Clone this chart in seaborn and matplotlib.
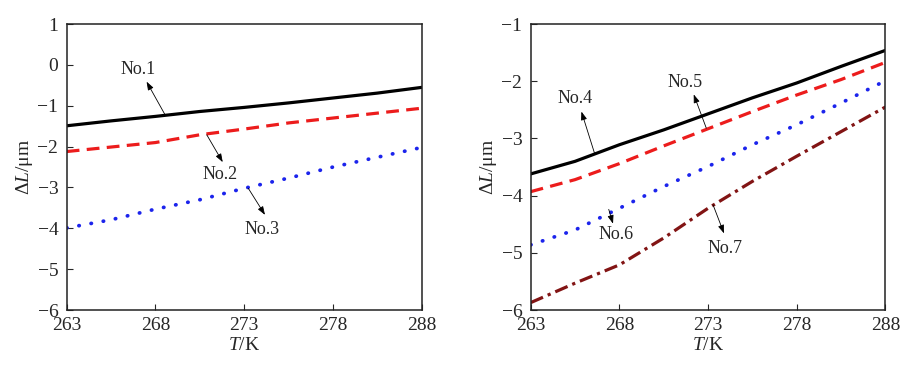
import numpy as np
import pandas as pd
import matplotlib
matplotlib.use("Agg")
import matplotlib.pyplot as plt
import seaborn as sns

# x positions (axis shows 5 equally spaced ticks labelled 263,268,273,278,288)
T = [263, 265.5, 268, 270.5, 273, 275.5, 278, 280.5, 283]
xtick_pos = [263, 268, 273, 278, 283]
xtick_labels = ["263", "268", "273", "278", "288"]

no1 = [-1.49, -1.37, -1.26, -1.14, -1.04, -0.93, -0.81, -0.69, -0.55]
no2 = [-2.12, -2.01, -1.90, -1.71, -1.57, -1.42, -1.30, -1.18, -1.06]
no3 = [-3.99, -3.79, -3.53, -3.30, -3.02, -2.77, -2.50, -2.26, -2.02]

no4 = [-3.62, -3.40, -3.11, -2.85, -2.57, -2.29, -2.03, -1.74, -1.46]
no5 = [-3.93, -3.72, -3.44, -3.13, -2.83, -2.53, -2.24, -1.97, -1.67]
no6 = [-4.86, -4.60, -4.22, -3.84, -3.49, -3.11, -2.76, -2.38, -1.99]
no7 = [-5.87, -5.53, -5.21, -4.74, -4.22, -3.75, -3.31, -2.88, -2.45]

sns.set_style("ticks")
plt.rcParams["font.family"] = ["Liberation Serif", "DejaVu Serif"]
plt.rcParams["mathtext.fontset"] = "custom"
plt.rcParams["mathtext.rm"] = "Liberation Serif"
plt.rcParams["mathtext.it"] = "Liberation Serif:italic"

fig = plt.figure(figsize=(9.15, 3.7), dpi=100)
ax1 = fig.add_axes([0.0729, 0.162, 0.388, 0.773])
ax2 = fig.add_axes([0.580, 0.162, 0.3877, 0.773])

styles = {
    "black": dict(color="black", lw=2.3, ls="-", cap="butt"),
    "red": dict(color="#ec1c1c", lw=2.3, ls=(0, (4.0, 2.3)), cap="butt"),
    "blue": dict(color="#1c24ec", lw=2.7, ls=(0, (0.1, 3.2)), cap="round"),
    "dred": dict(color="#821414", lw=2.3, ls=(0, (4.2, 1.6, 1.0, 1.6)), cap="butt"),
}

def draw(ax, series):
    for y, st in series:
        df = pd.DataFrame({"T": T, "dL": y})
        sns.lineplot(data=df, x="T", y="dL", ax=ax, color=st["color"],
                     linewidth=st["lw"], linestyle=st["ls"],
                     dash_capstyle=st["cap"])

draw(ax1, [(no1, styles["black"]), (no2, styles["red"]), (no3, styles["blue"])])
draw(ax2, [(no4, styles["black"]), (no5, styles["red"]), (no6, styles["blue"]), (no7, styles["dred"])])

ax1.set_ylim(-6, 1)
ax2.set_ylim(-6, -1)
for ax in (ax1, ax2):
    ax.set_xlim(263, 283)
    ax.set_xticks(xtick_pos)
    ax.set_xticklabels(xtick_labels)
    ax.tick_params(direction="in", labelsize=14, length=4, width=0.8, top=False, right=False)
    ax.tick_params(axis="x", pad=5)
    ax.tick_params(axis="y", pad=6)
    for s in ax.spines.values():
        s.set_visible(True)
        s.set_linewidth(1.1)
        s.set_color("#222222")
    ax.set_xlabel("$T$/K", fontsize=14, labelpad=2)
    ax.set_ylabel("Δ$L$/μm", fontsize=14, labelpad=1.5)
ax1.set_yticks(range(-6, 2))
ax2.set_yticks(range(-6, 0))

arrow = dict(arrowstyle="-|>,head_length=0.5,head_width=0.18", color="black", lw=0.6, shrinkA=0, shrinkB=0)

def label(ax, text, txy, head, tail):
    ax.text(txy[0], txy[1], text, ha="center", va="center", fontsize=13)
    ax.annotate("", xy=head, xytext=tail, arrowprops=arrow)

label(ax1, "No.1", (267.04, -0.12), (267.5, -0.41), (268.54, -1.22))
label(ax1, "No.2", (271.64, -2.69), (271.79, -2.38), (270.89, -1.71))
label(ax1, "No.3", (273.99, -4.04), (274.17, -3.67), (273.23, -3.02))

label(ax2, "No.4", (265.48, -2.31), (265.86, -2.53), (266.61, -3.27))
label(ax2, "No.5", (271.68, -2.02), (272.19, -2.23), (272.90, -2.82))
label(ax2, "No.6", (267.79, -4.68), (267.64, -4.49), (267.40, -4.24))
label(ax2, "No.7", (273.94, -4.92), (273.90, -4.66), (273.28, -4.16))

fig.savefig("out.png", dpi=100)
